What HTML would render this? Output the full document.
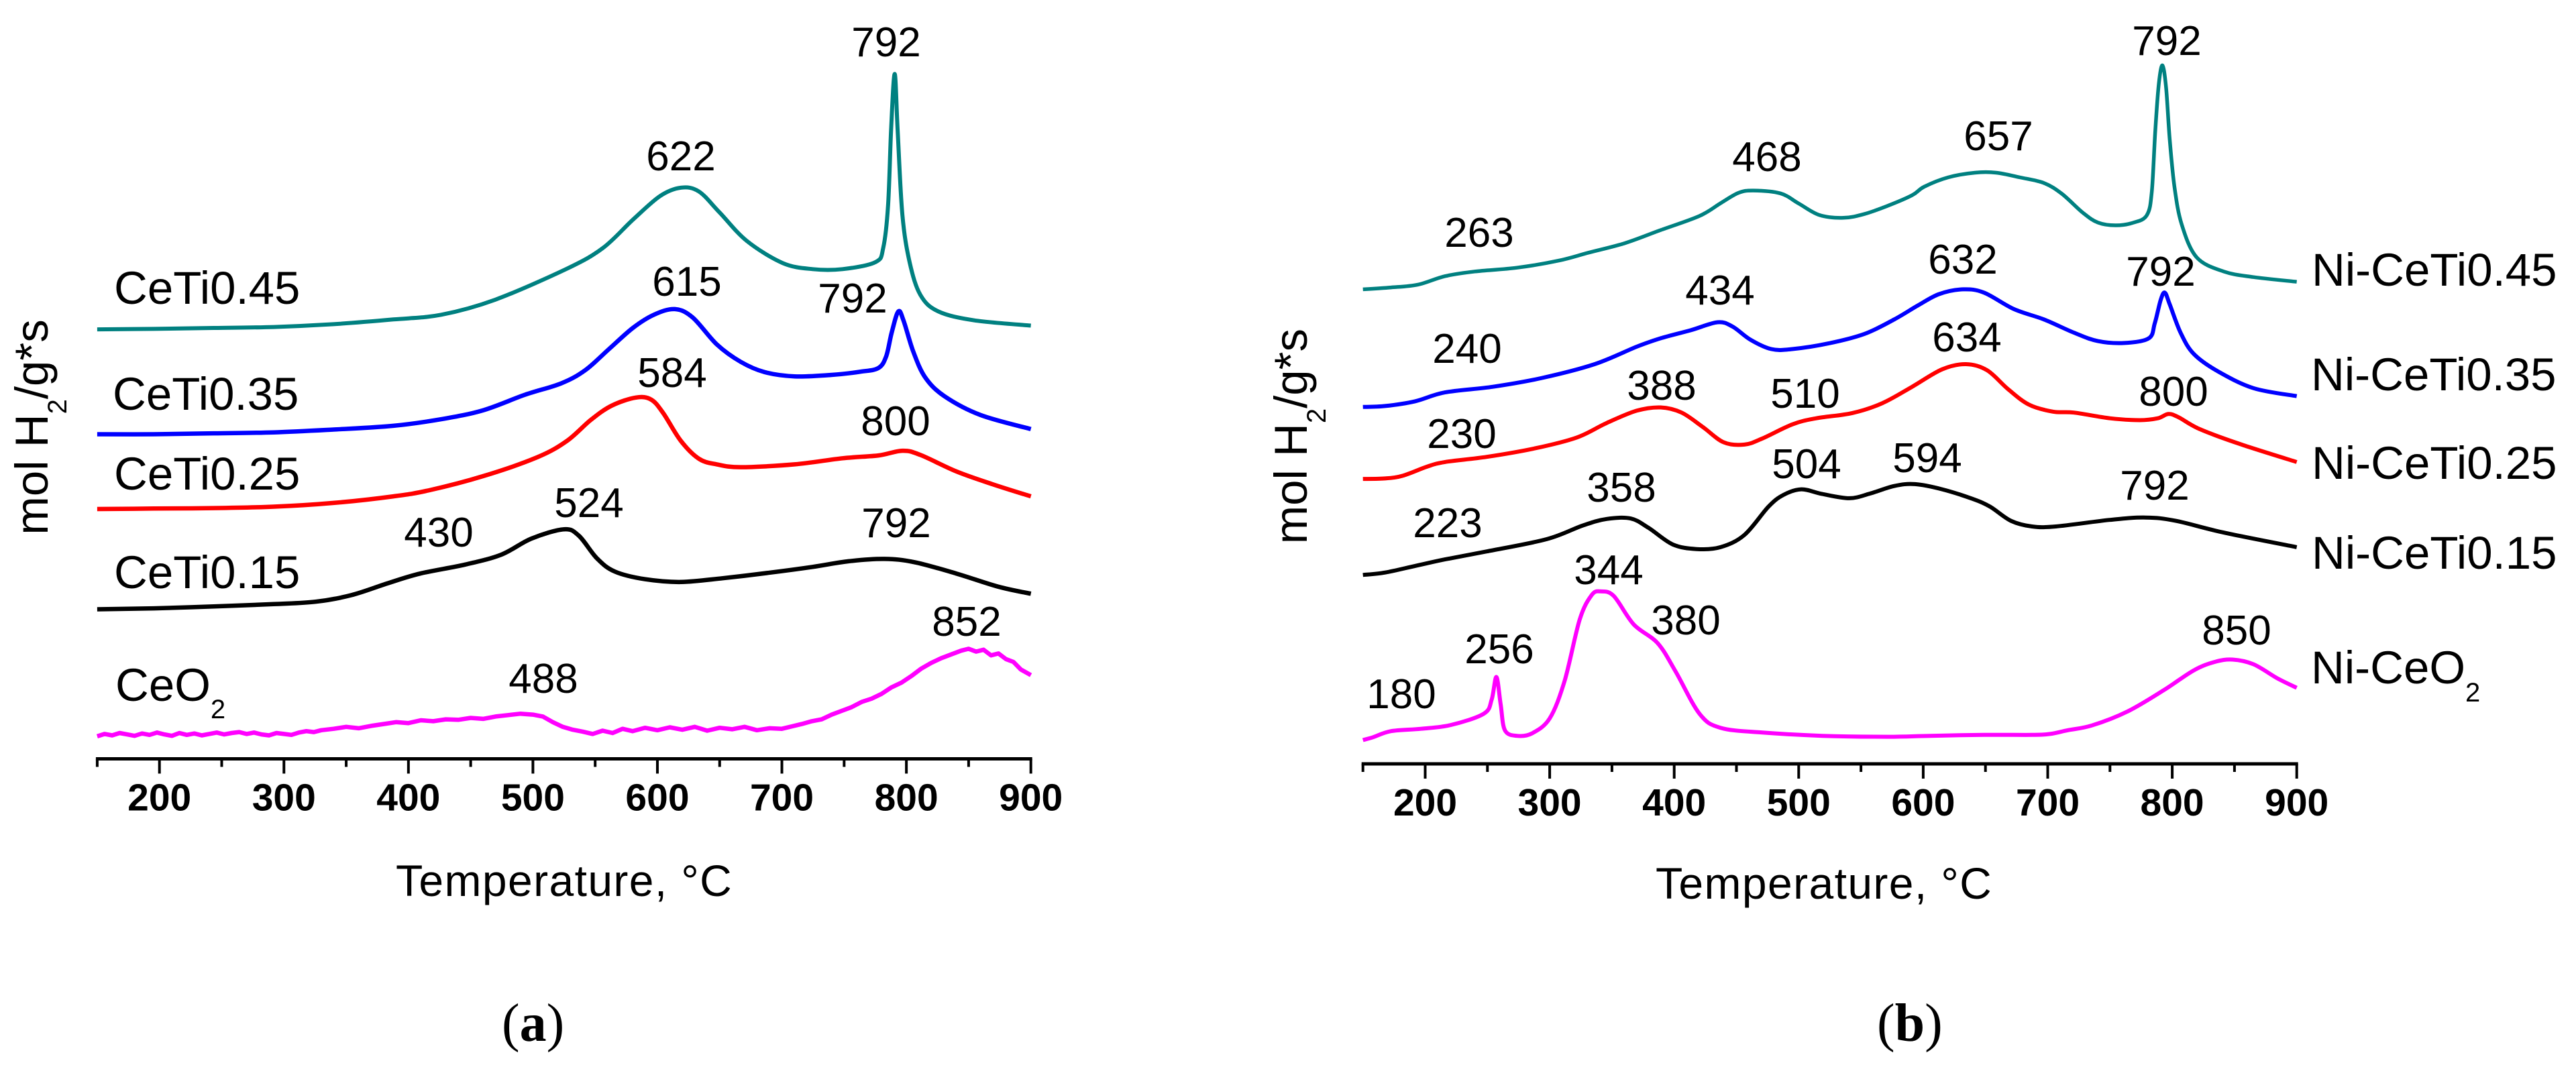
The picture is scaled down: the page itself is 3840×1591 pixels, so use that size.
<!DOCTYPE html>
<html lang="en">
<head>
<meta charset="utf-8">
<title>TPR profiles of CeTi and Ni-CeTi samples</title>
<style>
html,body{margin:0;padding:0;background:#fff;width:3840px;height:1591px;overflow:hidden}
svg{display:block}
text{font-family:"Liberation Sans",Arial,sans-serif;fill:#000}
.peak{font-size:62px;text-anchor:middle}
.series{font-size:69px}
.rseries{font-size:69px}
.sub{font-size:40px}
.ytitle{font-size:69px}
.xtitle{font-size:66px;letter-spacing:1.4px}
.panel{font-family:"Liberation Serif",serif;font-size:80px}
.tick{font-size:57px;font-weight:bold;text-anchor:middle}
</style>
</head>
<body>
<svg id="chart" width="3840" height="1591" viewBox="0 0 3840 1591" xmlns="http://www.w3.org/2000/svg">
  <rect width="3840" height="1591" fill="#fff"/>

  <g id="panel-a"></g>
  <g id="panel-b"></g>

  <!-- Panel a text -->
  <text class="ytitle" transform="translate(71,797.6) rotate(-90)">mol H<tspan class="sub" dy="28">2</tspan><tspan dy="-28">/g*s</tspan></text>
  <text class="xtitle" x="590" y="1336">Temperature, °C</text>
  <text class="panel" x="748" y="1552">(<tspan font-weight="bold">a</tspan>)</text>

  <text class="series" x="170" y="453">CeTi0.45</text>
  <text class="series" x="168" y="611">CeTi0.35</text>
  <text class="series" x="170" y="730">CeTi0.25</text>
  <text class="series" x="170" y="877">CeTi0.15</text>
  <text class="series" x="172" y="1045">CeO<tspan class="sub" dy="26">2</tspan></text>

  <text class="peak" x="1321" y="84">792</text>
  <text class="peak" x="1015" y="254">622</text>
  <text class="peak" x="1024" y="441">615</text>
  <text class="peak" x="1271" y="466">792</text>
  <text class="peak" x="1002" y="577">584</text>
  <text class="peak" x="1335" y="649">800</text>
  <text class="peak" x="878" y="771">524</text>
  <text class="peak" x="654" y="815">430</text>
  <text class="peak" x="1336" y="801">792</text>
  <text class="peak" x="1441" y="948">852</text>
  <text class="peak" x="810" y="1033">488</text>

  <!-- Panel b text -->
  <text class="ytitle" transform="translate(1948,811.3) rotate(-90)">mol H<tspan class="sub" dy="28">2</tspan><tspan dy="-28">/g*s</tspan></text>
  <text class="xtitle" x="2468" y="1340">Temperature, °C</text>
  <text class="panel" x="2798" y="1552">(<tspan font-weight="bold">b</tspan>)</text>

  <text class="rseries" x="3446" y="426">Ni-CeTi0.45</text>
  <text class="rseries" x="3445" y="582">Ni-CeTi0.35</text>
  <text class="rseries" x="3446" y="714">Ni-CeTi0.25</text>
  <text class="rseries" x="3446" y="848">Ni-CeTi0.15</text>
  <text class="rseries" x="3445" y="1019">Ni-CeO<tspan class="sub" dy="27">2</tspan></text>

  <text class="peak" x="3230" y="82">792</text>
  <text class="peak" x="2979" y="224">657</text>
  <text class="peak" x="2634" y="255">468</text>
  <text class="peak" x="2205" y="368">263</text>
  <text class="peak" x="2926" y="408">632</text>
  <text class="peak" x="3221" y="426">792</text>
  <text class="peak" x="2564" y="454">434</text>
  <text class="peak" x="2187" y="541">240</text>
  <text class="peak" x="2932" y="524">634</text>
  <text class="peak" x="2477" y="596">388</text>
  <text class="peak" x="2691" y="608">510</text>
  <text class="peak" x="3240" y="605">800</text>
  <text class="peak" x="2179" y="668">230</text>
  <text class="peak" x="2693" y="713">504</text>
  <text class="peak" x="2873" y="704">594</text>
  <text class="peak" x="2417" y="748">358</text>
  <text class="peak" x="3212" y="745">792</text>
  <text class="peak" x="2158" y="801">223</text>
  <text class="peak" x="2398" y="871">344</text>
  <text class="peak" x="2513" y="946">380</text>
  <text class="peak" x="2235" y="989">256</text>
  <text class="peak" x="2089" y="1056">180</text>
  <text class="peak" x="3334" y="961">850</text>
</svg>

<script>
// Axis ticks (deg C)
const majorTicks = [200, 300, 400, 500, 600, 700, 800, 900];
const minorTicks = [150, 250, 350, 450, 550, 650, 750, 850];

// Panel a: temperature (deg C) and signal (a.u.)
const aT045 = [150,195.5,243.6,291.7,339.8,387.9,426.4,469.7,527.4,556.3,580.3,602,618.8,633.3,650.1,671.8,700.6,724.7,748.7,775.2,781.4,785.3,787.7,790.6,793,796.8,802.6,811.3,825.7,854.6,900];
const aV045 = [957,958,960,962,968,978,988,1020,1086,1130,1190,1240,1258,1250,1205,1145,1098,1085,1085,1100,1130,1220,1380,1500,1380,1200,1100,1030,995,976,965];
const aT035 = [150,195.5,243.6,291.7,339.8,387.9,426.4,460.1,493.7,522.6,541.9,561.1,580.3,597.2,614,628.4,647.7,666.9,686.2,710.2,739.1,763.2,777.6,783.8,788.2,793.5,797.8,805.5,815.1,830.5,859.4,900];
const aV035 = [734,734,736,738,744,752,766,785,818,842,870,915,960,988,1000,982,925,888,866,857,860,867,875,900,950,995,975,910,855,815,775,745];
const aT025 = [150,195.5,243.6,291.7,339.8,387.9,416.8,460.1,503.4,527.4,546.7,563.5,582.7,594.8,604.4,618.8,633.3,647.7,666.9,710.2,748.7,777.6,796.8,811.3,840.1,869,900];
const aV025 = [575,576,577,580,588,602,615,645,685,720,765,795,812,808,780,720,682,670,664,670,683,689,699,690,655,628,602];
const aT015 = [150,195.5,243.6,291.7,325.4,354.2,383.1,409.5,445.6,474.5,498.6,525,537,551.5,565.9,589.9,618.8,652.5,691,724.7,753.5,782.4,806.5,840.1,873.8,900];
const aV015 = [362,364,368,373,378,392,417,438,457,478,512,532,518,470,442,426,420,428,440,452,464,469,462,438,410,395];
const aTCeO2 = [150,156,162,168,174,180,186,192,198,204,210,216,222,228,234,240,246,252,258,264,270,276,282,288,294,300,306,312,318,324,330,340,350,360,370,380,390,400,410,420,430,440,450,460,470,480,490,500,508,516,524,532,540,548,556,564,572,580,590,600,610,620,630,640,650,660,670,680,690,700,708,716,724,732,740,748,756,764,772,780,788,796,804,812,820,828,836,844,850,856,862,868,874,880,886,892,900];
const aVCeO2 = [92,97,94,99,96,93,98,95,100,96,93,99,95,98,94,97,100,96,99,101,97,100,96,94,99,97,95,100,103,101,105,108,112,109,114,118,122,120,126,124,128,127,131,129,134,137,140,138,134,122,112,106,102,97,104,99,108,103,110,105,111,106,112,104,110,107,112,105,109,108,113,118,124,128,138,146,154,165,172,182,196,206,220,236,248,258,266,274,278,272,276,264,268,256,250,234,222];

// Panel b: temperature (deg C) and signal (a.u.)
const bT045 = [150,172.6,194.2,215.9,239.9,273.6,307.3,331.3,360.2,389.1,420.3,437.2,451.6,463.6,485.3,499.7,516.6,535.8,552.6,571.9,591.1,600.7,620,641.6,658.5,677.7,697,711.4,728.2,740.3,754.7,769.1,779.7,783.6,786.4,789.3,792.2,795.1,798,801.8,807.6,819.6,841.3,865.3,900];
const bV045 = [1042,1046,1052,1070,1080,1088,1103,1120,1140,1168,1198,1225,1247,1252,1246,1225,1200,1194,1202,1220,1242,1260,1280,1290,1290,1280,1268,1245,1205,1184,1178,1184,1200,1250,1380,1480,1518,1470,1360,1260,1180,1110,1080,1068,1058];
const bT035 = [150,167.8,191.8,215.9,254.4,292.8,336.1,369.8,389.1,413.1,434.8,446.8,461.2,478,494.9,523.8,552.6,576.7,595.9,612.8,632,648.9,672.9,697,721,740.3,761.9,781.2,786,790.8,794.1,798,806.7,817.2,836.5,865.3,900];
const bV035 = [792,794,804,823,835,853,883,920,938,955,972,963,935,915,915,927,947,978,1008,1032,1042,1035,1000,978,950,932,928,938,970,1020,1035,1010,950,905,868,832,815];
const bT025 = [150,167.8,182.2,201.4,215.9,249.5,288,321.7,345.8,369.8,389.1,405.9,422.7,439.6,456.4,470.8,494.9,514.1,543,567.1,591.1,615.2,634.4,651.3,668.1,684.9,704.2,721,749.9,773.9,788.4,797,805.2,822,855.7,900];
const bV025 = [639,640,646,665,675,686,704,727,758,784,791,780,750,717,712,725,755,768,779,800,835,872,883,870,830,797,782,780,768,764,768,777,770,745,712,675];
const bT015 = [150,167.8,191.8,215.9,249.5,297.7,326.5,345.8,365,379.4,398.7,417.9,437.2,456.4,475.7,487.7,502.1,518.9,540.6,557.4,576.7,593.5,615.2,639.2,653.7,670.5,687.4,706.6,749.9,778.8,802.8,841.3,900];
const bV015 = [435,440,454,468,485,511,540,554,555,535,500,490,494,520,580,605,617,607,598,608,624,628,617,597,580,550,538,538,552,557,550,525,494];
const bTCeO2 = [150,158.1,172.6,196.6,220.7,247.1,253.4,257.2,260.6,264,273.6,285.6,300,312,324.1,333.7,340.9,351.5,367.4,386.7,401.1,420.3,437.2,470.8,519,571.9,605.6,648.9,687.4,701.8,716.2,735.5,764.3,793.2,817.2,834.1,848.5,865.3,884.6,900];
const bVCeO2 = [84,90,103,108,116,140,170,218,160,105,93,98,130,210,340,392,400,390,330,290,230,140,110,100,93,91,93,95,95,97,105,115,145,190,232,250,255,245,215,195];

const SVGNS = 'http://www.w3.org/2000/svg';

function yScale(v) {
  return 40 + (1600 - v) / 1.4255;
}

function smoothPath(px, py) {
  let d = 'M' + px[0].toFixed(1) + ' ' + py[0].toFixed(1);
  for (let i = 0; i < px.length - 1; i++) {
    const a = Math.max(i - 1, 0), b = Math.min(i + 2, px.length - 1);
    const c1x = px[i] + (px[i + 1] - px[a]) / 6, c1y = py[i] + (py[i + 1] - py[a]) / 6;
    const c2x = px[i + 1] - (px[b] - px[i]) / 6, c2y = py[i + 1] - (py[b] - py[i]) / 6;
    d += 'C' + c1x.toFixed(1) + ' ' + c1y.toFixed(1) + ' ' + c2x.toFixed(1) + ' ' + c2y.toFixed(1) + ' ' + px[i + 1].toFixed(1) + ' ' + py[i + 1].toFixed(1);
  }
  return d;
}

function linePath(px, py) {
  return px.map((x, i) => (i ? 'L' : 'M') + x.toFixed(1) + ' ' + py[i].toFixed(1)).join('');
}

function drawAxis(group, xScale, axisY) {
  const axis = document.createElementNS(SVGNS, 'rect');
  
  
  axis.setAttribute('x', xScale(150) - 2);
  axis.setAttribute('y', axisY - 2.5);
  axis.setAttribute('width', xScale(900) - xScale(150) + 4);
  axis.setAttribute('height', 5);
  group.appendChild(axis);

  majorTicks.forEach(function (t) {
    const tick = document.createElementNS(SVGNS, 'rect');
    
    
    tick.setAttribute('x', xScale(t) - 2);
    tick.setAttribute('y', axisY);
    tick.setAttribute('width', 4);
    tick.setAttribute('height', 22);
    group.appendChild(tick);

    const label = document.createElementNS(SVGNS, 'text');
    
    
    label.setAttribute('class', 'tick');
    label.setAttribute('x', xScale(t));
    label.setAttribute('y', axisY + 77);
    label.textContent = String(t);
    group.appendChild(label);
  });

  minorTicks.forEach(function (t) {
    const tick = document.createElementNS(SVGNS, 'rect');
    
    
    tick.setAttribute('x', xScale(t) - 2);
    tick.setAttribute('y', axisY);
    tick.setAttribute('width', 4);
    tick.setAttribute('height', 12);
    group.appendChild(tick);
  });
}

function drawSeries(group, xScale, temps, values, color, width, name, noisy) {
  const px = temps.map(xScale);
  const py = values.map(yScale);
  const path = document.createElementNS(SVGNS, 'path');
  
  
  path.setAttribute('d', noisy ? linePath(px, py) : smoothPath(px, py));
  path.setAttribute('fill', 'none');
  path.setAttribute('stroke', color);
  path.setAttribute('stroke-width', width);
  path.setAttribute('stroke-linejoin', 'round');
  group.appendChild(path);
}

function xA(t) { return 237.7 + (t - 200) * 1.8557; }
function xB(t) { return 2124.5 + (t - 200) * 1.856; }

const gA = document.getElementById('panel-a');
const gB = document.getElementById('panel-b');

drawAxis(gA, xA, 1131.5);
drawAxis(gB, xB, 1139);

drawSeries(gA, xA, aT045, aV045, '#008080', 6, 'curve-ceti045', false);
drawSeries(gA, xA, aT035, aV035, '#0000ff', 6.5, 'curve-ceti035', false);
drawSeries(gA, xA, aT025, aV025, '#ff0000', 6.5, 'curve-ceti025', false);
drawSeries(gA, xA, aT015, aV015, '#000000', 6.5, 'curve-ceti015', false);
drawSeries(gA, xA, aTCeO2, aVCeO2, '#ff00ff', 6.5, 'curve-ceo2', true);

drawSeries(gB, xB, bT045, bV045, '#008080', 5.5, 'curve-ni-ceti045', false);
drawSeries(gB, xB, bT035, bV035, '#0000ff', 6, 'curve-ni-ceti035', false);
drawSeries(gB, xB, bT025, bV025, '#ff0000', 6, 'curve-ni-ceti025', false);
drawSeries(gB, xB, bT015, bV015, '#000000', 6, 'curve-ni-ceti015', false);
drawSeries(gB, xB, bTCeO2, bVCeO2, '#ff00ff', 6, 'curve-ni-ceo2', false);
</script>
</body>
</html>
